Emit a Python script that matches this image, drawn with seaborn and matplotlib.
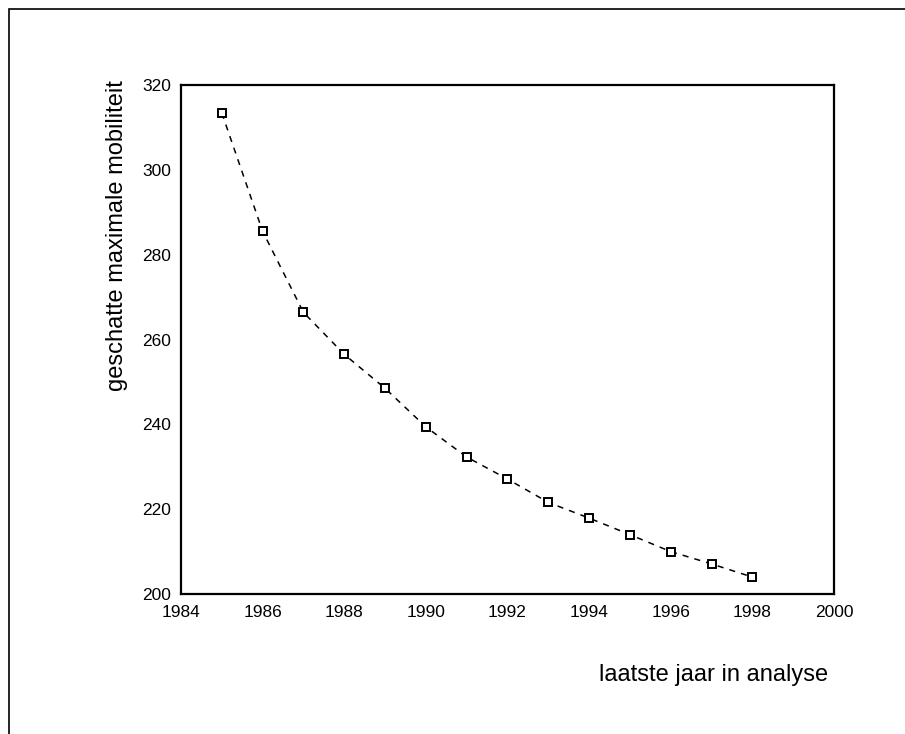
import pandas as pd
import seaborn as sns
import matplotlib.pyplot as plt
from matplotlib.patches import Rectangle

jaar = [1985, 1986, 1987, 1988, 1989, 1990, 1991, 1992, 1993, 1994, 1995, 1996, 1997, 1998]
mobiliteit = [313.4, 285.5, 266.4, 256.5, 248.5, 239.4, 232.3, 227.1, 221.6, 217.9, 214.0, 210.0, 207.1, 204.0]
xticks = [1984, 1986, 1988, 1990, 1992, 1994, 1996, 1998, 2000]
yticks = [200, 220, 240, 260, 280, 300, 320]

sns.set_style("white")
plt.rcParams['font.family'] = ['Liberation Sans', 'DejaVu Sans']
plt.rcParams['text.color'] = 'black'

df = pd.DataFrame({'jaar': jaar, 'mob': mobiliteit})

fig = plt.figure(figsize=(9.05, 7.34), dpi=100)
ax = fig.add_axes([0.2, 0.1907, 0.7215, 0.6935])

sns.lineplot(data=df, x='jaar', y='mob', ax=ax, color='black', linewidth=1.1,
             marker='s', markersize=6, markerfacecolor='white',
             markeredgecolor='black', markeredgewidth=1.4)
ax.lines[0].set_dashes((4, 4))

ax.set_xlim(1984, 2000)
ax.set_ylim(200, 320)
ax.set_xticks(xticks)
ax.set_yticks(yticks)
ax.tick_params(axis='both', direction='out', length=3, width=3,
               labelsize=12.5, colors='black', labelcolor='black')
ax.tick_params(axis='x', pad=5)
ax.tick_params(axis='y', pad=4)
for s in ax.spines.values():
    s.set_color('black')
    s.set_linewidth(1.6)

ax.set_xlabel('')
ax.set_ylabel('')
fig.text(117 / 905, 1 - 236 / 734, 'geschatte maximale mobiliteit', fontsize=17,
         rotation=90, ha='center', va='center', color='black')
fig.text(828 / 905, 1 - 675 / 734, 'laatste jaar in analyse', fontsize=17,
         ha='right', va='center', color='black')

# outer frame (only top and left edges are visible)
fig.patches.append(Rectangle((9 / 905, -0.1), 1.2, 1 - 9 / 734 + 0.1,
                             transform=fig.transFigure, fill=False,
                             edgecolor='black', linewidth=1.2, clip_on=False))

fig.savefig('out.png', dpi=100)
